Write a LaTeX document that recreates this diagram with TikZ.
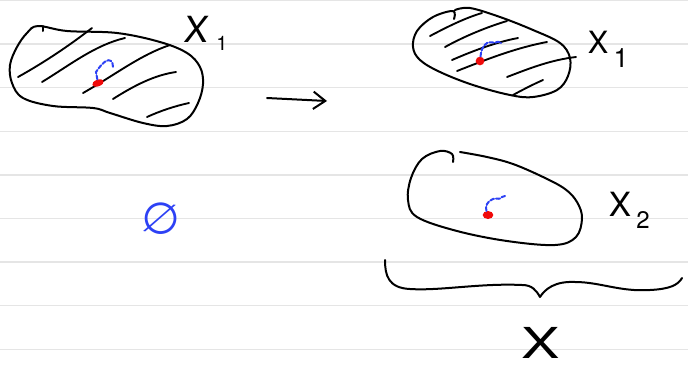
\documentclass[tikz,border=0pt]{standalone}
\usepackage{fontspec}
\newfontfamily\handfont{TeX Gyre Heros}
\newfontfamily\symfont{DejaVu Sans}
\usetikzlibrary{arrows.meta,shapes.geometric}
\definecolor{penblue}{RGB}{45,65,245}
\definecolor{penred}{RGB}{240,10,10}
\begin{document}
\begin{tikzpicture}[x=0.75pt,y=-0.75pt,
  ink/.style={line width=1.5pt,line cap=round,line join=round,black},
  hatch/.style={ink,line width=1.4pt},
  rule/.style={line width=1.1pt,color=black!10},
  spot/.style={fill=penred,draw=none},
  trail/.style={line width=1.5pt,color=penblue,dash pattern=on 3pt off 1.5pt,line cap=round},
  hand/.style={inner sep=0pt},
]
\useasboundingbox (0,0) rectangle (688,371);
\fill[white] (0,0) rectangle (688,371);

% ruled paper
\foreach \k in {0,...,8}
  \draw[rule] (0,{0.5+43.6*\k}) -- (688,{0.5+43.6*\k});

% ---------- first set, fully hatched ----------
\draw[ink] plot[smooth cycle,tension=0.6] coordinates {
  (38,26) (67,31) (117,33) (160,42) (187,53) (200,67) (203,84) (198,103)
  (187,119) (167,126) (143,123) (110,113) (93,108) (53,106) (23,98)
  (12,83) (10,65) (17,47) (27,33)};
\draw[ink] (43,26) -- (43,31);
\draw[hatch] (18,77) .. controls (45,62) and (70,45) .. (92,28);
\draw[hatch] (42,82) .. controls (70,65) and (95,45) .. (125,38);
\draw[hatch] (83,93) .. controls (115,75) and (140,55) .. (170,45);
\draw[hatch] (113,99) .. controls (135,85) and (155,75) .. (176,72);
\draw[hatch] (147,117) .. controls (160,111) and (175,106) .. (189,103);
\node[spot,ellipse,minimum width=9pt,minimum height=5pt,inner sep=0pt,rotate=20] (p1) at (98,83) {};
\coordinate (p1end) at (113,67);
\draw[trail] (p1) -- (96,72) .. controls (100,66) and (103,63) .. (106,61) .. controls (110,59) and (113,61) .. (p1end);
\node[hand,font=\handfont\fontsize{27}{27}\selectfont,xslant=0.1] (xa) at (197,29) {X};
\node[hand,font=\handfont\fontsize{15}{15}\selectfont] (xasub) at (222,43) {1};

% ---------- map arrow ----------
\coordinate (arrS) at (267,98);
\coordinate (arrE) at (327,101);
\draw[ink,-{Straight Barb[length=9pt,width=13pt,line width=1.5pt]}] (arrS) -- (arrE);

% ---------- empty set ----------
\node[hand,font=\symfont\fontsize{33}{33}\selectfont,text=penblue,rotate=-10] (empty) at (161,219) {∅};

% ---------- second set X1, hatched ----------
\draw[ink] plot[smooth,tension=0.6] coordinates {
  (455,10) (470,8) (500,17) (533,30) (560,43) (570,58) (568,76) (557,90)
  (533,97) (510,95) (473,85) (440,72) (420,60) (413,47) (417,31) (433,17) (453,11) (454,19)};
\draw[hatch] (430,36) .. controls (447,27) and (465,18) .. (482,13);
\draw[hatch] (445,47) .. controls (465,36) and (487,27) .. (507,21);
\draw[hatch] (452,60) .. controls (475,50) and (497,42) .. (518,38);
\draw[hatch] (457,71) .. controls (485,60) and (515,48) .. (547,42);
\draw[hatch] (507,77) .. controls (528,69) and (550,60) .. (576,57);
\draw[hatch] (513,95) .. controls (524,89) and (534,84) .. (543,80);
\node[spot,circle,minimum size=6.5pt,inner sep=0pt] (p2) at (480,61) {};
\coordinate (p2end) at (501,43);
\draw[trail] (p2) .. controls (481,52) and (482,46) .. (487,43) .. controls (492,41) and (495,44) .. (497,42) .. controls (499,41) and (500,42) .. (p2end);
\node[hand,font=\handfont\fontsize{23}{23}\selectfont] (xb) at (598,42) {X};
\node[hand,font=\handfont\fontsize{20}{20}\selectfont] (xbsub) at (621,58) {1};

% ---------- second set X2 ----------
\draw[ink] plot[smooth,tension=0.6] coordinates {
  (453,162) (452,154) (440,151) (422,159) (411,178) (408,200) (417,217)
  (457,231) (507,241) (555,245) (576,237) (582,218) (577,202) (565,189)
  (543,177) (513,164) (487,157) (460,152)};
\node[spot,ellipse,minimum width=8pt,minimum height=6pt,inner sep=0pt] (p3) at (488,215) {};
\coordinate (p3end) at (505,196);
\draw[trail] (p3) .. controls (485,207) and (487,201) .. (493,199) .. controls (497,198) and (500,200) .. (502,197) -- (p3end);
\node[hand,font=\handfont\fontsize{25}{25}\selectfont] (xc) at (620,204) {X};
\node[hand,font=\handfont\fontsize{18}{18}\selectfont] (xcsub) at (643,220) {2};

% ---------- brace and union ----------
\coordinate (brL) at (385,260);
\coordinate (brM) at (540,297);
\coordinate (brR) at (682,278);
\draw[ink] (brL) .. controls (385,275) and (388,288) .. (410,289)
  .. controls (440,291) and (480,283) .. (522,285)
  .. controls (532,285) and (536,290) .. (brM)
  .. controls (545,289) and (555,281) .. (575,282)
  .. controls (600,282) and (620,292) .. (650,290)
  .. controls (670,289) and (678,285) .. (brR);
\node[hand,font=\handfont\fontsize{32}{32}\selectfont,xscale=1.35] (xall) at (541,343) {X};
\end{tikzpicture}
\end{document}
